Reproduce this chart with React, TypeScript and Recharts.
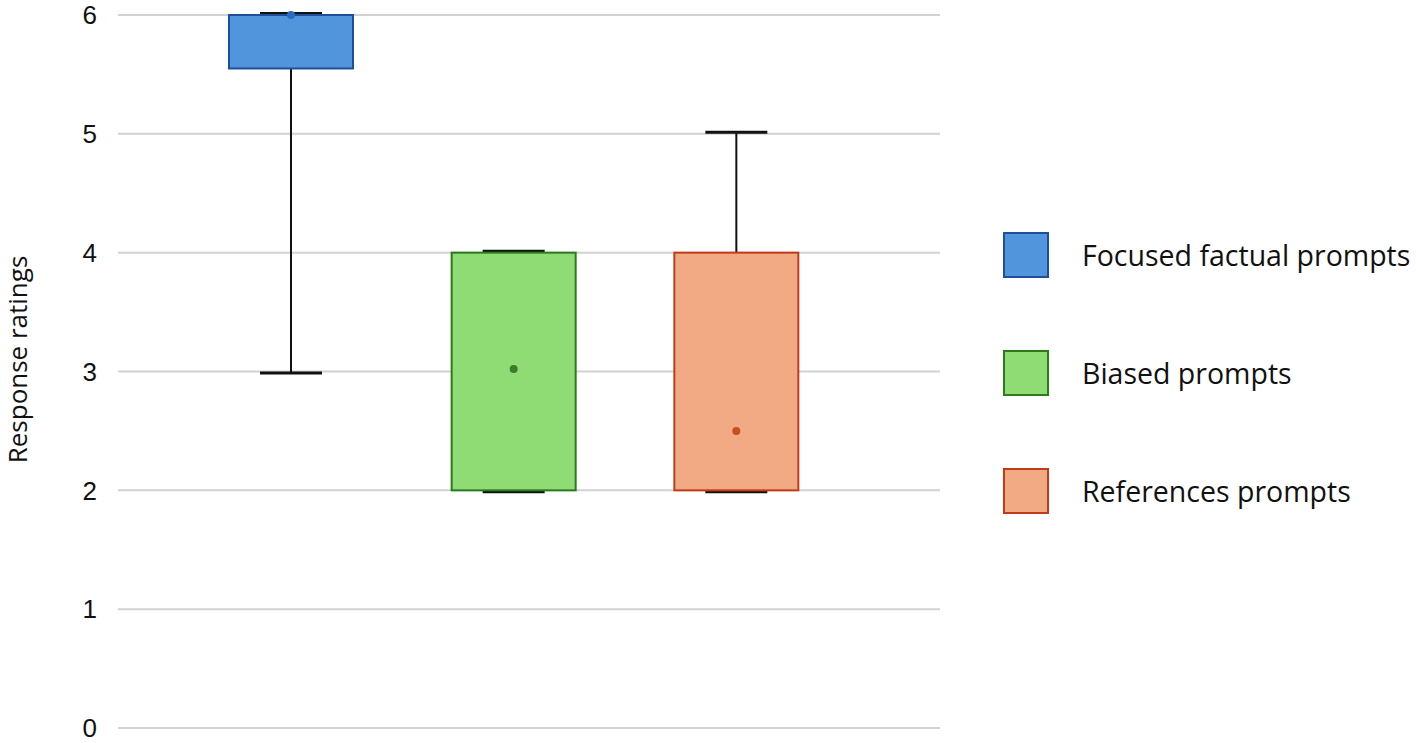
import { Bar, CartesianGrid, ComposedChart, Label, XAxis, YAxis } from "recharts";

const groups = ["Focused factual prompts", "Biased prompts", "References prompts"];
const mins = [3, 2, 2];
const q1s = [5.55, 2, 2];
const q3s = [6, 4, 4];
const maxs = [6, 4, 5];
const means = [6, 3.02, 2.5];
const yTicks = [0, 1, 2, 3, 4, 5, 6];

const fills = ["#5196dd", "#8fdb74", "#f2aa85"];
const strokes = ["#1e4f9a", "#2c7a1c", "#c03c16"];
const dotColors = ["#2a6cc0", "#3c7a2c", "#c4501e"];

const rows = groups.map((name, i) => ({
  name,
  base: q1s[i],
  box: q3s[i] - q1s[i],
  min: mins[i],
  q1: q1s[i],
  q3: q3s[i],
  max: maxs[i],
  mean: means[i],
  idx: i,
}));

function BoxShape(props: any) {
  const { x, y, width, height, payload } = props;
  const i = payload.idx;
  const unit = height / (payload.q3 - payload.q1);
  const py = (v: number) => y + (payload.q3 - v) * unit;
  const cx = x + width / 2;
  const capHalf = width / 4;
  const yMax = py(payload.max) - 1.5;
  const yMin = py(payload.min) + 1.5;
  return (
    <g>
      <line x1={cx} x2={cx} y1={yMax} y2={yMin} stroke="#111" strokeWidth={2} />
      <line x1={cx - capHalf} x2={cx + capHalf} y1={yMax} y2={yMax} stroke="#111" strokeWidth={3} />
      <line x1={cx - capHalf} x2={cx + capHalf} y1={yMin} y2={yMin} stroke="#111" strokeWidth={3} />
      <rect x={x} y={y} width={width} height={height} fill={fills[i]} stroke={strokes[i]} strokeWidth={2} />
      <circle cx={cx} cy={py(payload.mean)} r={4} fill={dotColors[i]} />
    </g>
  );
}

function LegendBox() {
  return (
    <div
      style={{
        position: "absolute",
        left: 1003,
        top: 196,
        fontFamily: "'Open Sans', 'Noto Sans', sans-serif",
        fontSize: 28.5,
        color: "#111",
      }}
    >
      {groups.map((g, i) => (
        <div key={g} style={{ display: "flex", alignItems: "center", height: 118, whiteSpace: "nowrap" }}>
          <div
            style={{
              width: 42,
              height: 42,
              background: fills[i],
              border: `2px solid ${strokes[i]}`,
              marginRight: 33,
            }}
          />
          <span>{g}</span>
        </div>
      ))}
    </div>
  );
}

export default function App() {
  return (
    <div style={{ position: "absolute", left: 0, top: 0, width: 1417, height: 743, background: "#fff" }}>
      <ComposedChart width={1417} height={743} data={rows} margin={{ top: 15, right: 477, bottom: 15, left: 0 }}>
        <CartesianGrid vertical={false} stroke="#d2d2d2" strokeWidth={2} />
        <XAxis dataKey="name" hide padding={{ left: 62, right: 92 }} />
        <YAxis
          domain={[0, 6]}
          ticks={yTicks}
          width={118}
          axisLine={false}
          tickLine={false}
          tickSize={0}
          tickMargin={21}
          tick={{ fill: "#111", fontSize: 26, fontFamily: "'Liberation Sans', Arial, sans-serif" }}
        >
          <Label
            value="Response ratings"
            angle={-90}
            position="center"
            dx={-41}
            dy={-12}
            style={{ fill: "#111", fontSize: 26, fontFamily: "'Open Sans', 'Noto Sans', sans-serif" }}
          />
        </YAxis>
        <Bar dataKey="base" stackId="a" fill="transparent" barSize={124} isAnimationActive={false} />
        <Bar dataKey="box" stackId="a" barSize={124} shape={BoxShape} isAnimationActive={false} />
      </ComposedChart>
      <LegendBox />
    </div>
  );
}
